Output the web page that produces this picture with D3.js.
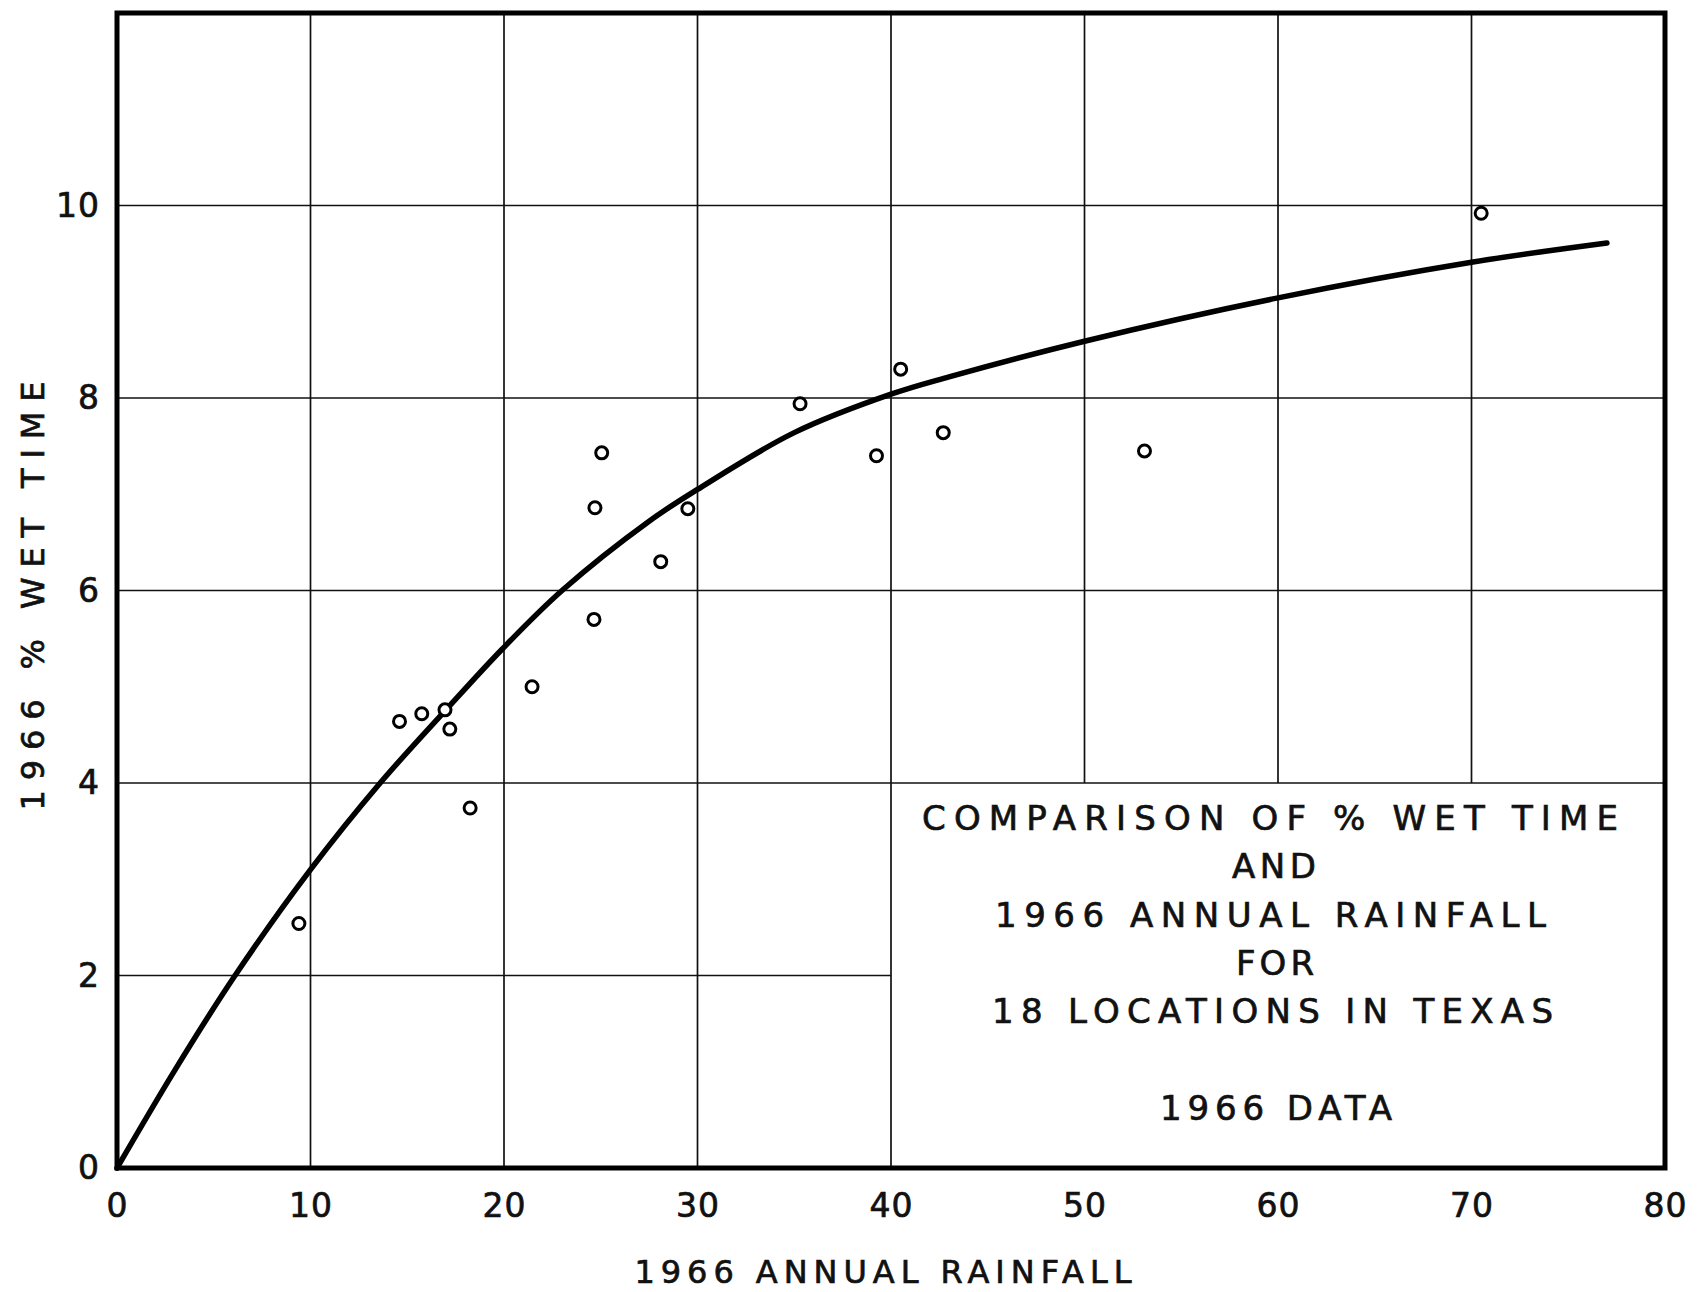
<!DOCTYPE html>
<meta charset="utf-8">
<style>
body { margin: 0; background: #fff; }
text { font-family: "DejaVu Sans", sans-serif; fill: #111; stroke: #111; stroke-width: 0.7px; }
.grid line { stroke: #111; stroke-width: 1.7px; }
.frame { fill: none; stroke: #000; stroke-width: 5px; }
.fit { fill: none; stroke: #000; stroke-width: 5.5px; stroke-linecap: round; stroke-linejoin: round; }
.pt { fill: #fff; stroke: #000; stroke-width: 3px; }
</style>
<svg></svg>
<script src="https://cdn.jsdelivr.net/npm/d3@7"></script>
<script>

// rainfall (in) and % wet time for the 18 stations
var rainfall = [9.4, 14.6, 15.75, 16.95, 17.2, 18.25, 21.45, 24.65, 24.7, 25.05, 28.1, 29.5, 35.3, 39.25, 40.5, 42.7, 53.1, 70.5]
var wetTime  = [2.54, 4.64, 4.72, 4.76, 4.56, 3.74, 5.0, 5.7, 6.86, 7.43, 6.3, 6.85, 7.94, 7.4, 8.3, 7.64, 7.45, 9.92]

// hand drawn fitted curve
var curveX = [0, 3, 6.1, 10, 13.6, 17, 19.9, 23, 27.5, 30, 35, 40, 43, 50, 60, 70, 77]
var curveY = [0, 1.02, 2.0, 3.1, 4.0, 4.76, 5.39, 6.0, 6.72, 7.05, 7.64, 8.04, 8.22, 8.59, 9.04, 9.41, 9.61]

var xTicks = [0, 10, 20, 30, 40, 50, 60, 70, 80]
var yTicks = [0, 2, 4, 6, 8, 10]

var noteLines = ['COMPARISON OF % WET TIME', 'AND', '1966 ANNUAL RAINFALL', 'FOR', '18 LOCATIONS IN TEXAS', '', '1966 DATA']

var width = 1705, height = 1292

var svg = d3.select('svg')
            .attr('width', width)
            .attr('height', height)

svg.append('rect').attr('width', width).attr('height', height).attr('fill', '#fff')

var x = d3.scaleLinear().domain([0, 80]).range([117, 1665])
var y = d3.scaleLinear().domain([0, 12]).range([1168, 13])

// box for the note: no grid in x>=40, y<=4
var boxX = 40, boxY = 4

var grid = svg.append('g').attr('class', 'grid')

grid.selectAll('.v')
    .data(xTicks.slice(1, -1))
    .enter().append('line')
    .attr('x1', d => x(d)).attr('x2', d => x(d))
    .attr('y1', y(12))
    .attr('y2', d => d > boxX ? y(boxY) : y(0))

grid.selectAll('.h')
    .data(yTicks.slice(1))
    .enter().append('line')
    .attr('y1', d => y(d)).attr('y2', d => y(d))
    .attr('x1', x(0))
    .attr('x2', d => d < boxY ? x(boxX) : x(80))

// fitted curve
var line = d3.line()
    .x(d => x(d[0]))
    .y(d => y(d[1]))
    .curve(d3.curveCatmullRom.alpha(0.5))

svg.append('path')
    .datum(d3.zip(curveX, curveY))
    .attr('class', 'fit')
    .attr('d', line)

svg.selectAll('.pt')
    .data(d3.zip(rainfall, wetTime))
    .enter().append('circle')
    .attr('class', 'pt')
    .attr('cx', d => x(d[0]))
    .attr('cy', d => y(d[1]))
    .attr('r', 6)

svg.append('rect')
    .attr('class', 'frame')
    .attr('x', x(0)).attr('y', y(12))
    .attr('width', x(80) - x(0))
    .attr('height', y(0) - y(12))

// axes, labels only
var gx = svg.append('g')
    .attr('transform', 'translate(0,' + y(0) + ')')
    .call(d3.axisBottom(x).tickValues(xTicks).tickSize(0).tickPadding(26).tickFormat(d3.format('d')))
var gy = svg.append('g')
    .attr('transform', 'translate(' + x(0) + ',0)')
    .call(d3.axisLeft(y).tickValues(yTicks).tickSize(0).tickPadding(17).tickFormat(d3.format('d')))

svg.selectAll('.domain').remove()
svg.selectAll('.tick text')
    .attr('font-size', 33)
    .attr('font-family', '"DejaVu Sans", sans-serif')
    .attr('fill', '#111')
    .attr('letter-spacing', 1)
gx.selectAll('.tick text').attr('dy', '0.71em')

svg.append('text')
    .attr('x', 883).attr('y', 1272)
    .attr('text-anchor', 'middle')
    .attr('dominant-baseline', 'central')
    .attr('font-size', 32)
    .attr('textLength', 497)
    .attr('lengthAdjust', 'spacing')
    .text('1966 ANNUAL RAINFALL')

svg.append('text')
    .attr('transform', 'translate(33,596) rotate(-90)')
    .attr('text-anchor', 'middle')
    .attr('dominant-baseline', 'central')
    .attr('font-size', 32)
    .attr('textLength', 429)
    .attr('lengthAdjust', 'spacing')
    .text('1966 % WET TIME')

// note inside the box, widths
var noteW = [696, 84, 551, 78, 561, 0, 232]
var noteL = [922, 1232, 995, 1236, 992, 0, 1160]
svg.selectAll('.note')
    .data(noteLines)
    .enter().append('text')
    .attr('class', 'note')
    .attr('x', (d, i) => noteL[i])
    .attr('y', (d, i) => 818 + i * 48.3)
    .attr('dominant-baseline', 'central')
    .attr('font-size', 34)
    .attr('textLength', (d, i) => noteW[i] || null)
    .attr('lengthAdjust', 'spacing')
    .text(d => d)

</script>
